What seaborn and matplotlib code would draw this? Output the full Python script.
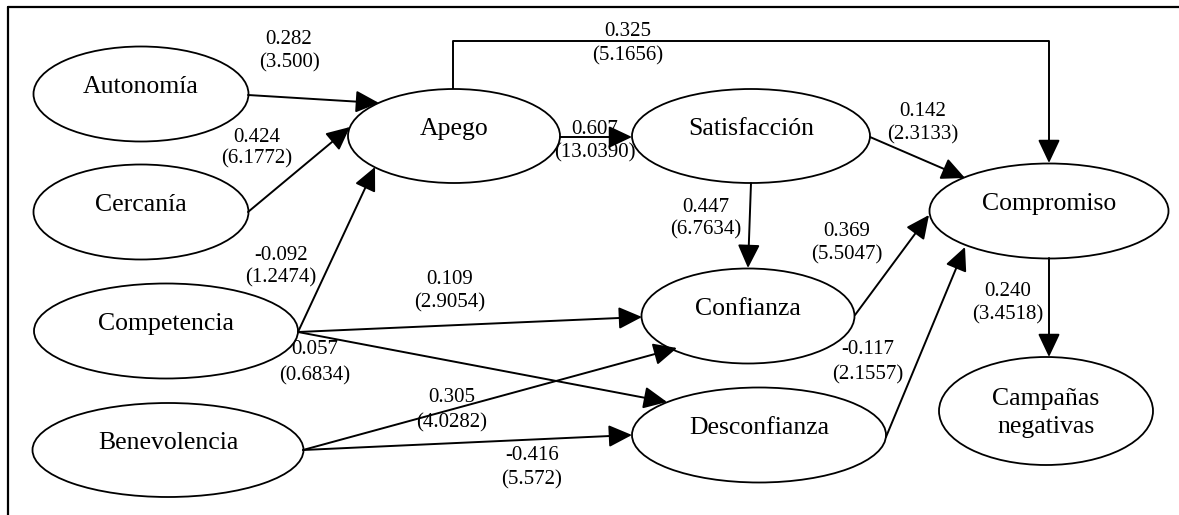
import seaborn as sns
from matplotlib import pyplot as plt
from matplotlib.patches import Ellipse, FancyArrowPatch

# path model: constructs, paths, coefficients and t values
constructs = ['Autonomía', 'Cercanía', 'Competencia', 'Benevolencia', 'Apego',
              'Satisfacción', 'Confianza', 'Desconfianza', 'Compromiso',
              'Campañas\nnegativas']
path_from = ['Autonomía', 'Cercanía', 'Competencia', 'Apego', 'Apego',
             'Satisfacción', 'Satisfacción', 'Competencia', 'Competencia',
             'Benevolencia', 'Benevolencia', 'Confianza', 'Desconfianza',
             'Compromiso']
path_to = ['Apego', 'Apego', 'Apego', 'Satisfacción', 'Compromiso',
           'Compromiso', 'Confianza', 'Confianza', 'Desconfianza',
           'Confianza', 'Desconfianza', 'Compromiso', 'Compromiso',
           'Campañas\nnegativas']
coefs = ['0.282', '0.424', '-0.092', '0.607', '0.325', '0.142', '0.447',
         '0.109', '0.057', '0.305', '-0.416', '0.369', '-0.117', '0.240']
t_values = ['3.500', '6.1772', '1.2474', '13.0390', '5.1656', '2.3133',
            '6.7634', '2.9054', '0.6834', '4.0282', '5.572', '5.5047',
            '2.1557', '3.4518']

# layout in pixels of the 1179x515 canvas: ellipse centre, width, height
node_layout = {
    'Autonomía': (141, 94, 215, 95),
    'Cercanía': (141, 212, 215, 95),
    'Competencia': (166, 331, 264, 95),
    'Benevolencia': (168, 450, 271, 94),
    'Apego': (454, 136, 212, 94),
    'Satisfacción': (751, 136, 238, 94),
    'Confianza': (748, 316, 213, 95),
    'Desconfianza': (759, 435, 254, 95),
    'Compromiso': (1049, 211, 239, 95),
    'Campañas\nnegativas': (1046, 411, 214, 108),
}
# start point, (elbow points), end point of each path
edge_layout = [
    [(248, 95), (379, 103)],
    [(248, 212), (350, 127)],
    [(298, 332), (375, 167)],
    [(560, 137), (632, 137)],
    [(453, 89), (453, 41), (1049, 41), (1049, 163)],
    [(870, 137), (965, 178)],
    [(751, 183), (748, 268)],
    [(298, 332), (642, 317)],
    [(298, 332), (667, 402)],
    [(303, 450), (677, 348)],
    [(303, 450), (632, 435)],
    [(855, 315), (929, 215)],
    [(886, 437), (965, 247)],
    [(1049, 258), (1049, 357)],
]
# label x, coefficient y, t value y
label_layout = [
    (289, 40, 63), (257, 137, 159), (281, 255, 278), (595, 130, 153),
    (628, 32, 56), (923, 111, 135), (706, 207, 230), (450, 280, 303),
    (315, 350, 376), (452, 398, 423), (532, 455, 480), (847, 231, 255),
    (868, 350, 375), (1008, 292, 315),
]

sns.set_theme(style='white')
plt.rcParams['font.family'] = ['Liberation Serif', 'DejaVu Serif']
plt.rcParams['text.color'] = 'black'

fig = plt.figure(figsize=(11.79, 5.15), dpi=100)
ax = fig.add_axes([0, 0, 1, 1])
ax.set_xlim(0, 1179)
ax.set_ylim(515, 0)
ax.axis('off')

# frame (top and left only)
ax.plot([8, 1179], [7, 7], color='black', lw=1.6)
ax.plot([8, 8], [7, 515], color='black', lw=1.6)

for name in constructs:
    cx, cy, w, h = node_layout[name]
    ax.add_patch(Ellipse((cx, cy), w, h, facecolor='white', edgecolor='black', lw=1.3, zorder=3))
    lines = name.split('\n')
    if len(lines) == 1:
        ax.text(cx, cy - 1, name, ha='center', va='baseline', fontsize=18.5, zorder=4)
    else:
        ax.text(cx, cy - 6, lines[0], ha='center', va='baseline', fontsize=18.5, zorder=4)
        ax.text(cx, cy + 22, lines[1], ha='center', va='baseline', fontsize=18.5, zorder=4)

for pts in edge_layout:
    if len(pts) > 2:
        xs = [p[0] for p in pts[:-1]]
        ys = [p[1] for p in pts[:-1]]
        ax.plot(xs, ys, color='black', lw=1.4, zorder=2, solid_capstyle='butt')
    arrow = FancyArrowPatch(pts[-2], pts[-1], arrowstyle='-|>,head_length=0.72,head_width=0.34',
                            mutation_scale=20, color='black', lw=1.4, shrinkA=0, shrinkB=0, zorder=5)
    ax.add_patch(arrow)

for c, t, (lx, y1, y2) in zip(coefs, t_values, label_layout):
    ax.text(lx, y1, c, ha='center', va='center', fontsize=15, zorder=6)
    ax.text(lx, y2, f'({t})', ha='center', va='center', fontsize=15, zorder=6)

plt.savefig('out.png', dpi=100)
